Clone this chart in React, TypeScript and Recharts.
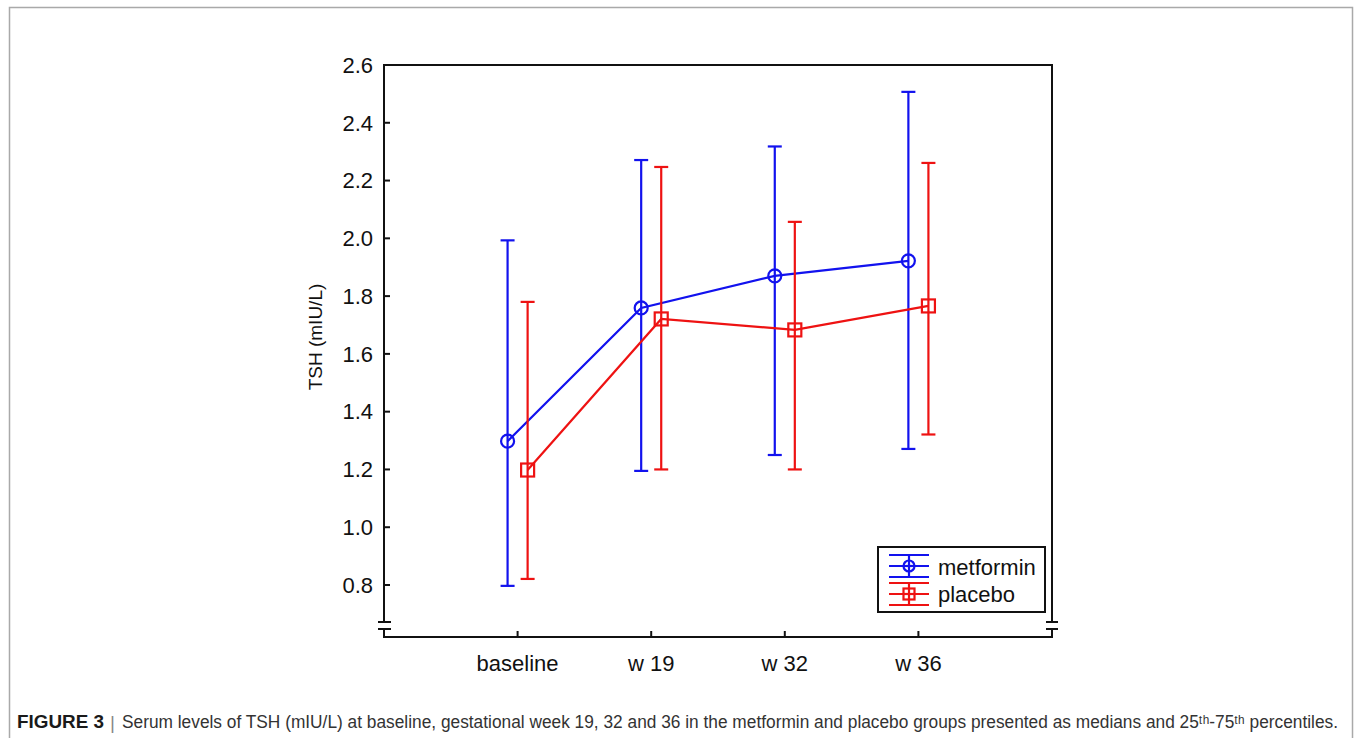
import React from 'react';
import { ComposedChart, Line, XAxis, YAxis, ErrorBar, Legend } from 'recharts';

// ---- data ----
const categories = ['baseline', 'w 19', 'w 32', 'w 36'];
const metforminMedian = [1.298, 1.759, 1.87, 1.922];
const metforminP25 = [0.797, 1.195, 1.25, 1.271];
const metforminP75 = [1.993, 2.271, 2.318, 2.507];
const placeboMedian = [1.198, 1.721, 1.683, 1.766];
const placeboP25 = [0.821, 1.2, 1.2, 1.321];
const placeboP75 = [1.78, 2.247, 2.057, 2.261];
const yTicks = [0.8, 1.0, 1.2, 1.4, 1.6, 1.8, 2.0, 2.2, 2.4, 2.6];
const xTicks = [1, 2, 3, 4];
const seriesNames = ['metformin', 'placebo'];

// ---- layout / style constants ----
const W = 1355;
const H = 738;
const PLOT_L = 384;
const PLOT_R = 1052;
const PLOT_T = 65;
const PLOT_B = 637;
const Y_AXIS_W = 60;
const X_AXIS_H = 60;
const GROUP_OFFSET = 0.075;
const BLUE = '#1212ee';
const RED = '#ee1212';
const FONT = '"Liberation Sans", Arial, Helvetica, sans-serif';

const metforminData = categories.map((c, i) => ({
  x: i + 1 - GROUP_OFFSET,
  name: c,
  y: metforminMedian[i],
  err: [metforminMedian[i] - metforminP25[i], metforminP75[i] - metforminMedian[i]],
}));
const placeboData = categories.map((c, i) => ({
  x: i + 1 + GROUP_OFFSET,
  name: c,
  y: placeboMedian[i],
  err: [placeboMedian[i] - placeboP25[i], placeboP75[i] - placeboMedian[i]],
}));

const CircleDot = (p: any) => (
  <circle key={`c-${p.index}`} cx={p.cx} cy={p.cy} r={6.5} fill="none" stroke={BLUE} strokeWidth={2.2} />
);
const SquareDot = (p: any) => (
  <rect key={`s-${p.index}`} x={p.cx - 6.5} y={p.cy - 6.5} width={13} height={13} fill="none" stroke={RED} strokeWidth={2.2} />
);

const YLabel = (props: any) => {
  const vb = props.viewBox || { x: 0, y: 0, width: 0, height: 0 };
  const cx = vb.x - 9;
  const cy = vb.y + vb.height / 2 - 14;
  return (
    <text
      x={cx}
      y={cy}
      transform={`rotate(-90, ${cx}, ${cy})`}
      textAnchor="middle"
      dominantBaseline="central"
      fontSize={19}
      fontFamily={FONT}
      fill="#111"
    >
      TSH (mIU/L)
    </text>
  );
};

const LegendSymbol = ({ color, y, marker }: { color: string; y: number; marker: 'circle' | 'square' }) => (
  <g stroke={color} strokeWidth={2.2} fill="none">
    <line x1={10} x2={50} y1={y - 11} y2={y - 11} />
    <line x1={10} x2={50} y1={y} y2={y} />
    <line x1={10} x2={50} y1={y + 11} y2={y + 11} />
    <line x1={30} x2={30} y1={y - 11} y2={y + 11} />
    {marker === 'circle' ? (
      <circle cx={30} cy={y} r={5.5} fill="white" />
    ) : (
      <rect x={24.5} y={y - 5.5} width={11} height={11} fill="white" />
    )}
    <line x1={30} x2={30} y1={y - 5} y2={y + 5} />
    <line x1={24} x2={36} y1={y} y2={y} />
  </g>
);

const renderLegend = () => (
  <div
    style={{
      width: 169,
      height: 67,
      boxSizing: 'border-box',
      border: '2px solid #111',
      background: 'white',
    }}
  >
    <svg width={165} height={63} style={{ display: 'block' }}>
      <LegendSymbol color={BLUE} y={18} marker="circle" />
      <LegendSymbol color={RED} y={46} marker="square" />
      <text x={59} y={27} fontSize={22} fontFamily={FONT} fill="#111">
        {seriesNames[0]}
      </text>
      <text x={59} y={54} fontSize={22} fontFamily={FONT} fill="#111">
        {seriesNames[1]}
      </text>
    </svg>
  </div>
);

const CAPTION_LABEL = 'FIGURE 3';
const CAPTION_TEXT =
  'Serum levels of TSH (mIU/L) at baseline, gestational week 19, 32 and 36 in the metformin and placebo groups presented as medians and 25\u1D57\u02B0-75\u1D57\u02B0 percentiles.';

export default function App() {
  const breakY1 = 622;
  const breakY2 = 629;
  const capY = 728;
  return (
    <div style={{ position: 'absolute', left: 0, top: 0, width: W, height: H, overflow: 'hidden', background: 'white' }}>
      <ComposedChart
        width={W}
        height={H}
        margin={{ top: PLOT_T, left: PLOT_L - Y_AXIS_W, right: W - PLOT_R, bottom: H - PLOT_B - X_AXIS_H }}
        style={{ fontFamily: FONT }}
      >
        <XAxis
          type="number"
          dataKey="x"
          domain={[0, 5]}
          ticks={xTicks}
          interval={0}
          tickFormatter={(v: number) => categories[Math.round(v) - 1] ?? ''}
          axisLine={false}
          tickSize={-6}
          tickMargin={24}
          height={X_AXIS_H}
          tickLine={{ stroke: '#111', strokeWidth: 2 }}
          tick={{ fontSize: 22, fill: '#111', fontFamily: FONT }}
          allowDataOverflow
        />
        <YAxis
          type="number"
          domain={[0.62, 2.6]}
          ticks={yTicks}
          interval={0}
          tickFormatter={(v: number) => v.toFixed(1)}
          axisLine={false}
          tickSize={-6}
          tickMargin={17}
          width={Y_AXIS_W}
          tickLine={{ stroke: '#111', strokeWidth: 2 }}
          tick={{ fontSize: 22, fill: '#111', fontFamily: FONT }}
          allowDataOverflow
          label={YLabel}
        />
        <Legend
          content={renderLegend}
          layout="vertical"
          align="center"
          verticalAlign="middle"
          wrapperStyle={{ position: 'absolute', left: 877, top: 546, width: 169, height: 67 }}
        />
        <Line
          data={metforminData}
          dataKey="y"
          name={seriesNames[0]}
          type="linear"
          stroke={BLUE}
          strokeWidth={2.2}
          dot={CircleDot}
          activeDot={false}
          isAnimationActive={false}
        >
          <ErrorBar dataKey="err" direction="y" width={7} stroke={BLUE} strokeWidth={2.2} isAnimationActive={false} />
        </Line>
        <Line
          data={placeboData}
          dataKey="y"
          name={seriesNames[1]}
          type="linear"
          stroke={RED}
          strokeWidth={2.2}
          dot={SquareDot}
          activeDot={false}
          isAnimationActive={false}
        >
          <ErrorBar dataKey="err" direction="y" width={7} stroke={RED} strokeWidth={2.2} isAnimationActive={false} />
        </Line>
      </ComposedChart>

      <svg
        width={W}
        height={H}
        style={{ position: 'absolute', left: 0, top: 0, pointerEvents: 'none' }}
      >
        {/* outer figure frame */}
        <rect x={9.5} y={7.5} width={1343} height={800} fill="none" stroke="#a9a9a9" strokeWidth={1.5} />
        {/* plot frame with axis breaks */}
        <g stroke="#111" strokeWidth={2} fill="none">
          <line x1={PLOT_L - 1} x2={PLOT_R + 1} y1={PLOT_T} y2={PLOT_T} />
          <line x1={PLOT_L - 1} x2={PLOT_R + 1} y1={PLOT_B} y2={PLOT_B} />
          <line x1={PLOT_L} x2={PLOT_L} y1={PLOT_T} y2={breakY1} />
          <line x1={PLOT_L} x2={PLOT_L} y1={breakY2} y2={PLOT_B} />
          <line x1={PLOT_R} x2={PLOT_R} y1={PLOT_T} y2={breakY1} />
          <line x1={PLOT_R} x2={PLOT_R} y1={breakY2} y2={PLOT_B} />
          <line x1={PLOT_L - 6} x2={PLOT_L + 7} y1={breakY1} y2={breakY1} />
          <line x1={PLOT_L - 6} x2={PLOT_L + 7} y1={breakY2} y2={breakY2} />
          <line x1={PLOT_R - 6} x2={PLOT_R + 6} y1={breakY1} y2={breakY1} />
          <line x1={PLOT_R - 6} x2={PLOT_R + 6} y1={breakY2} y2={breakY2} />
        </g>
        {/* caption */}
        <text
          x={17}
          y={capY}
          fontSize={18}
          fontWeight="bold"
          fontFamily={FONT}
          fill="#1a1a1a"
          textLength={87}
          lengthAdjust="spacingAndGlyphs"
        >
          {CAPTION_LABEL}
        </text>
        <text x={110} y={capY + 1} fontSize={19} fontFamily={FONT} fill="#888">
          |
        </text>
        <text
          x={122}
          y={capY}
          fontSize={17.5}
          fontFamily={FONT}
          fill="#333"
          textLength={1216}
          lengthAdjust="spacingAndGlyphs"
        >
          {CAPTION_TEXT}
        </text>
      </svg>
    </div>
  );
}
